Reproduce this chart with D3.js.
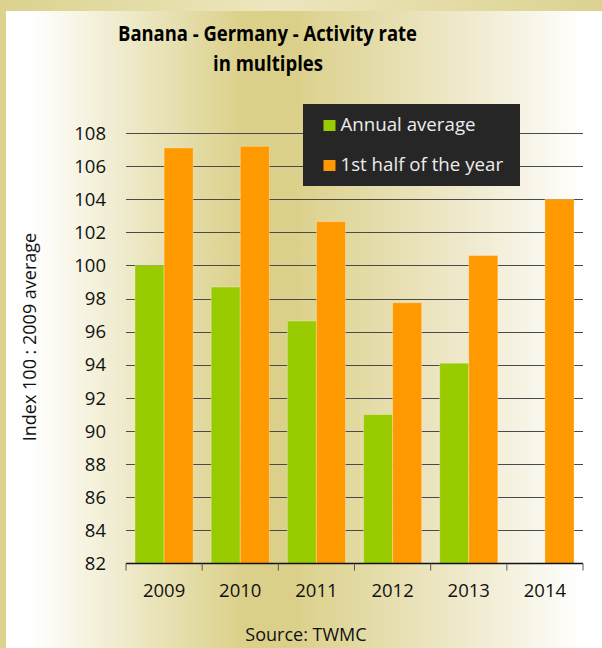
<!DOCTYPE html>
<html><head><meta charset="utf-8">
<script src="https://cdn.jsdelivr.net/npm/d3@7"></script>
<style>html,body{margin:0;padding:0;background:#fff;}svg{display:block;}</style>
</head><body>
<script>
const categories = ["2009","2010","2011","2012","2013","2014"];
const seriesNames = ["Annual average","1st half of the year"];
const annualAverage = [100.0, 98.7, 96.65, 91.0, 94.1, null];
const firstHalf = [107.1, 107.2, 102.65, 97.75, 100.6, 104.0];
const yTicks = [82,84,86,88,90,92,94,96,98,100,102,104,106,108];
const colors = ["#99cc00","#ff9900"];

const W = 602, H = 648;
const svg = d3.select("body").append("svg").attr("width", W).attr("height", H);
const defs = svg.append("defs");
const og = defs.append("linearGradient").attr("id","outer").attr("x1","0").attr("x2","1").attr("y1","0").attr("y2","0");
og.append("stop").attr("offset","0%").attr("stop-color","#dbd28d");
og.append("stop").attr("offset","45%").attr("stop-color","#ede6be");
og.append("stop").attr("offset","100%").attr("stop-color","#dcd290");
const ig = defs.append("linearGradient").attr("id","inner").attr("gradientUnits","userSpaceOnUse").attr("x1",6).attr("x2",602).attr("y1",0).attr("y2",0);
ig.append("stop").attr("offset","0.04").attr("stop-color","#ffffff");
ig.append("stop").attr("offset","0.40").attr("stop-color","#dbd089");
ig.append("stop").attr("offset","0.48").attr("stop-color","#dbd089");
ig.append("stop").attr("offset","0.80").attr("stop-color","#f1ecd3");
ig.append("stop").attr("offset","0.97").attr("stop-color","#ffffff");

svg.append("rect").attr("x",0).attr("y",0).attr("width",W).attr("height",H).attr("fill","url(#outer)");
svg.append("rect").attr("x",6).attr("y",11).attr("width",W-6).attr("height",H-11).attr("fill","url(#inner)");

const x0 = d3.scaleBand().domain(categories).range([126, 583]).padding(0);
const x1 = d3.scaleBand().domain(seriesNames).range([9, x0.bandwidth()-9]).padding(0);
const y = d3.scaleLinear().domain([82,108]).range([563.5,133]);

const font = "'Open Sans', sans-serif";

// gridlines
svg.append("g").selectAll("line").data(yTicks.filter(d=>d>82)).join("line")
  .attr("x1",126).attr("x2",583).attr("y1",d=>Math.round(y(d))+0.5).attr("y2",d=>Math.round(y(d))+0.5)
  .attr("stroke","#4a4a4a").attr("stroke-width",1.1);

// y tick labels
svg.append("g").selectAll("text").data(yTicks).join("text")
  .attr("x",106).attr("y",d=>y(d)).attr("dy","0.36em").attr("text-anchor","end")
  .attr("font-family",font).attr("font-size",18.5).attr("fill","#111").text(d=>d);

// bars
const rows = categories.map((c,i)=>({cat:c, vals:[annualAverage[i], firstHalf[i]]}));
const gBars = svg.append("g");
rows.forEach(r=>{
  r.vals.forEach((v,j)=>{
    if (v==null) return;
    gBars.append("rect")
      .attr("x", x0(r.cat)+x1(seriesNames[j]))
      .attr("y", y(v))
      .attr("width", x1.bandwidth())
      .attr("height", y(82)-y(v))
      .attr("fill", colors[j])
      .attr("stroke","rgba(255,255,255,0.3)").attr("stroke-width",1);
  });
});

// x axis
const xa = svg.append("g").attr("transform","translate(0,"+y(82)+")");
xa.append("line").attr("x1",126).attr("x2",583).attr("y1",0).attr("y2",0).attr("stroke","#111").attr("stroke-width",1.3);
const bounds = categories.map(c=>x0(c)).concat([583]);
xa.selectAll("line.t").data(bounds).join("line").attr("class","t")
  .attr("x1",d=>d).attr("x2",d=>d).attr("y1",0).attr("y2",7).attr("stroke","#555").attr("stroke-width",1);
xa.selectAll("text").data(categories).join("text")
  .attr("x",d=>x0(d)+x0.bandwidth()/2).attr("y",33).attr("text-anchor","middle")
  .attr("font-family",font).attr("font-size",18.5).attr("fill","#111").text(d=>d);

// y axis title
svg.append("text").attr("transform","translate(36,337) rotate(-90)").attr("text-anchor","middle")
  .attr("font-family",font).attr("font-size",18).attr("fill","#111").text("Index 100 : 2009 average");

// title
svg.append("text").attr("x",267.5).attr("y",41).attr("text-anchor","middle")
  .attr("font-family",font).attr("font-weight","bold").attr("font-size",21.5).attr("fill","#000")
  .attr("textLength",299).attr("lengthAdjust","spacingAndGlyphs").text("Banana - Germany - Activity rate");
svg.append("text").attr("x",268).attr("y",71).attr("text-anchor","middle")
  .attr("font-family",font).attr("font-weight","bold").attr("font-size",21.5).attr("fill","#000")
  .attr("textLength",110).attr("lengthAdjust","spacingAndGlyphs").text("in multiples");

// legend
const lg = svg.append("g");
lg.append("rect").attr("x",303).attr("y",104).attr("width",217).attr("height",82).attr("fill","#262626");
seriesNames.forEach((s,i)=>{
  lg.append("rect").attr("x",323.5).attr("y",120+i*40).attr("width",12).attr("height",11).attr("fill",colors[i]);
  lg.append("text").attr("x",340.5).attr("y",131+i*40).attr("font-family",font).attr("font-size",18.7)
    .attr("fill","#ececec").text(s);
});

// source
svg.append("text").attr("x",306).attr("y",641).attr("text-anchor","middle")
  .attr("font-family",font).attr("font-size",18).attr("fill","#111").text("Source: TWMC");
</script>
</body></html>
